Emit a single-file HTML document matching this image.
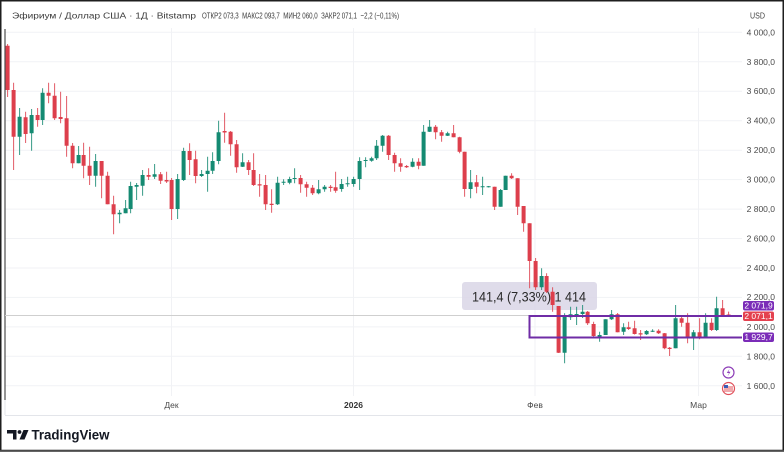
<!DOCTYPE html>
<html><head><meta charset="utf-8"><style>
html,body{margin:0;padding:0;background:#fff;}
svg{display:block;}
text{font-family:"Liberation Sans","Noto Sans CJK SC",sans-serif;}
</style></head><body>
<svg width="784" height="452" viewBox="0 0 784 452" xmlns="http://www.w3.org/2000/svg">
<rect x="0" y="0" width="784" height="452" fill="#fff"/>
<!-- grid -->
<g stroke="#f1f2f5" stroke-width="1">
<path d="M5 32.3H742M5 61.8H742M5 91.2H742M5 120.7H742M5 150.2H742M5 179.6H742M5 209.1H742M5 238.5H742M5 268H742M5 297.4H742M5 326.9H742M5 356.3H742M5 385.8H742"/>
<path d="M171.5 28V396M353.5 28V396M535 28V396M698.5 28V396"/>
</g>
<!-- header -->
<text x="12" y="18.5" font-size="8.5" fill="#3a3a3a" textLength="184" lengthAdjust="spacingAndGlyphs">Эфириум / Доллар США · 1Д · Bitstamp</text>
<text x="202" y="18.5" font-size="8.5" fill="#3a3a3a" textLength="197" lengthAdjust="spacingAndGlyphs" xml:space="preserve">ОТКР2 073,3  МАКС2 093,7  МИН2 060,0  ЗАКР2 071,1  −2,2 (−0,11%)</text>
<text x="750" y="18.5" font-size="8" fill="#444" textLength="15" lengthAdjust="spacingAndGlyphs">USD</text>
<!-- price axis -->
<g font-size="8.5" fill="#4a4a4a" text-anchor="end">
<text x="775" y="35.3">4 000,0</text>
<text x="775" y="64.8">3 800,0</text>
<text x="775" y="94.2">3 600,0</text>
<text x="775" y="123.7">3 400,0</text>
<text x="775" y="153.2">3 200,0</text>
<text x="775" y="182.6">3 000,0</text>
<text x="775" y="212.1">2 800,0</text>
<text x="775" y="241.5">2 600,0</text>
<text x="775" y="271">2 400,0</text>
<text x="775" y="300">2 200,0</text>
<text x="775" y="329.9">2 000,0</text>
<text x="775" y="359.3">1 800,0</text>
<text x="775" y="388.8">1 600,0</text>
</g>
<!-- time axis -->
<g font-size="8.5" fill="#4a4a4a" text-anchor="middle">
<text x="171.5" y="408">Дек</text>
<text x="353.5" y="408" font-weight="bold" fill="#333">2026</text>
<text x="535" y="408">Фев</text>
<text x="698.5" y="408">Мар</text>
</g>
<!-- pane borders -->
<path d="M5 415.5H782" stroke="#e3e5ea" stroke-width="1"/>
<path d="M5 400V415" stroke="#e3e5ea" stroke-width="1"/>
<path d="M5 29V400" stroke="#2a2a2a" stroke-width="1"/>
<!-- current price line -->
<path d="M5 315.5H742" stroke="#cfcfcf" stroke-width="1"/>
<!-- measure box -->
<rect x="462" y="282" width="135" height="28" rx="3" fill="#d9d6e6" opacity="0.85"/>
<g transform="translate(0.6,0)">
<path fill="#dd3f4c" stroke="none" d="M5 45.7h4V90h-4zM11 90h4V136.7h-4zM23 117.3h4V134h-4zM35 115h4V120h-4zM46 92.7h4V95.7h-4zM52 95.7h4V118.3h-4zM58 117h4V119h-4zM64 118.3h4V145.7h-4zM70 145.7h4V163.3h-4zM81 155h4V165.7h-4zM87 165.7h4V175.7h-4zM99 161h4V175.7h-4zM105 175.7h4V204.3h-4zM111 204.3h4V214.3h-4zM146 175h4V176.7h-4zM158 174.3h4V180.7h-4zM164 180h4V181.5h-4zM169 180h4V209h-4zM187 151h4V160h-4zM193 159.3h4V176h-4zM222 131h4V132.5h-4zM228 131.7h4V144.3h-4zM234 144.3h4V167.3h-4zM246 162.3h4V170h-4zM251 170h4V185h-4zM257 184.3h4V185.5h-4zM263 185h4V204.3h-4zM269 203.7h4V205h-4zM298 178h4V184.3h-4zM304 184.3h4V187.7h-4zM310 187.7h4V193.3h-4zM328 186.7h4V188h-4zM333 187.3h4V190.7h-4zM386 135.7h4V155h-4zM392 155h4V163.3h-4zM398 163.3h4V166.7h-4zM404 166h4V167.3h-4zM416 161.7h4V165.7h-4zM433 126.7h4V132.3h-4zM439 132.3h4V135.7h-4zM451 133.3h4V137.3h-4zM457 137.3h4V151.7h-4zM462 151.7h4V189h-4zM474 182.3h4V186.7h-4zM492 186.7h4V206.7h-4zM509 175.7h4V178.3h-4zM515 178.3h4V206.7h-4zM521 206h4V223.3h-4zM527 223.3h4V261h-4zM533 261h4V287.3h-4zM544 276h4V291.7h-4zM550 291.7h4V305h-4zM556 306h4V352.7h-4zM585 311.7h4V323.3h-4zM591 324h4V336h-4zM615 314.3h4V332.3h-4zM626 327.3h4V329h-4zM632 328.3h4V334h-4zM638 333.3h4V334.5h-4zM656 330.7h4V333.3h-4zM662 333.3h4V348.3h-4zM667 347.7h4V349h-4zM679 318.3h4V322.7h-4zM685 322.7h4V337.3h-4zM697 332.3h4V336.7h-4zM709 322.7h4V330h-4zM720 308.3h4V316.7h-4zM726 314.5h4V315.5h-4z"/>
<path fill="none" stroke="#dd3f4c" stroke-width="1" opacity="0.85" d="M7 44V97M13 82.7V170M25 111.7V143M37 108V126.7M48 82.7V103.3M54 83.3V120M60 91.7V123.3M66 96V156.7M72 143V168.3M83 142.7V178.3M89 146.7V185M101 161V198.3M107 171.7V204.3M113 195.7V234.3M148 168.3V180M160 172V184M166 171.7V183M171 178V220M189 143.3V175M195 150.7V183.3M224 112.7V142.7M230 131V155.7M236 140V172.7M248 160V175M253 153.3V186M259 174V196.7M265 175V210M271 189.3V212.7M300 175V192.7M306 181.7V196.7M312 185V195M330 185V191.7M335 171.7V192.7M388 135V160M394 152.7V171.7M400 158.3V171.7M406 165V168M418 158.3V169.3M435 125V139.3M441 130V141.7M453 125V137.3M459 136.7V153.3M464 151.7V196.7M476 175V193.3M494 186.7V210M511 173.3V179M517 178.3V215M523 206V231.7M529 223.3V288.3M535 258V290M546 273.3V293M552 287.3V311.7M558 306V353M587 311V325M593 321.7V337M617 313V332.3M628 321.7V330M634 320.7V334.5M640 330V340M658 329.3V334M664 333V349.3M669 347V356M681 315V326.7M687 313.3V343.3M699 318.3V339.3M711 318.3V331M722 300V317M728 311.6V316.6"/>
<path fill="#158a72" stroke="none" d="M17 116.7h4V136.7h-4zM29 115h4V133.3h-4zM40 92.7h4V120h-4zM76 155h4V163.3h-4zM93 161h4V175.7h-4zM117 212.7h4V214.3h-4zM123 208.3h4V213.3h-4zM128 186h4V209h-4zM134 185h4V186.7h-4zM140 175h4V185.7h-4zM152 174.3h4V176.7h-4zM175 179h4V209h-4zM181 151h4V180h-4zM199 174h4V176h-4zM205 170.7h4V174h-4zM210 161h4V170.7h-4zM216 132.3h4V161h-4zM240 162.3h4V166.7h-4zM275 182.7h4V204.3h-4zM281 181.7h4V182.7h-4zM287 179h4V182.7h-4zM292 178h4V179h-4zM316 189.3h4V193.3h-4zM322 186.7h4V189.3h-4zM339 184h4V189h-4zM345 183.3h4V184.3h-4zM351 179h4V184h-4zM357 161h4V179h-4zM363 160h4V161h-4zM369 158.3h4V160.7h-4zM374 145.7h4V158.3h-4zM380 135.7h4V145.7h-4zM410 161.7h4V166.7h-4zM421 131.7h4V165.7h-4zM427 126.7h4V131.7h-4zM445 133.3h4V135.7h-4zM468 182.3h4V189h-4zM480 186.3h4V187.3h-4zM486 186.3h4V187.3h-4zM498 190h4V206.7h-4zM503 175.7h4V190h-4zM539 276h4V287.3h-4zM562 315h4V352.7h-4zM568 314.3h4V317.3h-4zM574 314h4V315h-4zM580 311.7h4V314h-4zM597 335h4V336.7h-4zM603 319.3h4V335h-4zM609 314.3h4V319.3h-4zM621 327.3h4V331.7h-4zM644 331h4V334.3h-4zM650 330.7h4V331.7h-4zM673 318.3h4V348.3h-4zM691 332.3h4V337.3h-4zM703 322.7h4V336.7h-4zM714 308.3h4V330h-4z"/>
<path fill="none" stroke="#158a72" stroke-width="1" opacity="0.85" d="M19 108V155M31 109V150.7M42 88.3V125M78 146V163.3M95 154V186.7M119 210V223.3M125 200V213.3M130 181.7V213.3M136 183V200M142 170V195.7M154 164V179M177 174V219M183 147.7V181M201 170V177M207 156.7V191.7M212 152.3V174M218 120.7V164.3M242 153.3V167M277 176.7V205M283 179.3V185M289 176.7V184.3M294 168.3V183.3M318 180V194.3M324 185V191.7M341 179V191.7M347 176.7V186.7M353 176.7V186.7M359 157.3V190M365 157.3V167.3M371 156.7V161.7M376 140V160M382 135V151.7M412 158.3V167.3M423 125V165.7M429 120V132M447 131.7V136M470 170V198.3M482 176.7V195M488 186V187.5M500 189V206.7M505 175.7V190M541 268.3V290M564 313.3V363.3M570 306.7V320M576 306.7V325M582 305V318M599 331.7V341.7M605 319.3V335M611 310V320M623 323.3V335M646 330V335M652 329.3V332M675 305V348.3M693 330V350M705 313.3V337M716 296.7V331"/>
</g>
<!-- measure text -->
<text x="472" y="301.5" font-size="14" fill="#2a2a2a" textLength="114" lengthAdjust="spacingAndGlyphs">141,4 (7,33%) 1 414</text>
<!-- purple range rectangle -->
<path d="M742 316H529.5V337.5H742" fill="none" stroke="#6f2ca6" stroke-width="2"/>
<!-- price labels -->
<rect x="743" y="301" width="31" height="9.5" rx="2" fill="#7b2cb8"/>
<text x="758.5" y="308.7" font-size="8.5" fill="#fff" text-anchor="middle">2 071,9</text>
<rect x="743" y="311.5" width="31" height="9.5" rx="2" fill="#e4414f"/>
<text x="758.5" y="319.2" font-size="8.5" fill="#fff" text-anchor="middle">2 071,1</text>
<rect x="743" y="332.5" width="31" height="9.5" rx="2" fill="#7b2cb8"/>
<text x="758.5" y="340.2" font-size="8.5" fill="#fff" text-anchor="middle">1 929,7</text>
<!-- icons -->
<circle cx="728.5" cy="372.5" r="5.5" fill="#fff" stroke="#8e3fb8" stroke-width="1.2"/>
<path d="M729.5 368.8L726.8 373H729L727.6 376.3L730.5 371.8H728.4Z" fill="#8e3fb8"/>
<circle cx="728.5" cy="388.5" r="6" fill="#fff" stroke="#e0505a" stroke-width="1.2"/>
<path d="M724 387h9M724 389h9M724 391h9" stroke="#e0505a" stroke-width="1"/>
<rect x="724" y="385" width="4" height="3" fill="#3b5bb5"/>
<!-- logo -->
<path d="M7 430H16.5V439.5H13V433.5H7Z" fill="#131722"/>
<circle cx="19.5" cy="432" r="1.9" fill="#131722"/>
<path d="M23.5 430H28.5L24.5 439.5H19.5Z" fill="#131722"/>
<text x="31.5" y="439.6" font-size="14" font-weight="bold" fill="#131722" textLength="78" lengthAdjust="spacingAndGlyphs">TradingView</text>
<!-- outer frame -->
<path d="M0.75 0.75H783.25V450.5H0.75Z" fill="none" stroke="#1e1e1e" stroke-width="1.5"/>
<path d="M0 451.2H784" stroke="#666" stroke-width="1.6"/>
</svg>
</body></html>
